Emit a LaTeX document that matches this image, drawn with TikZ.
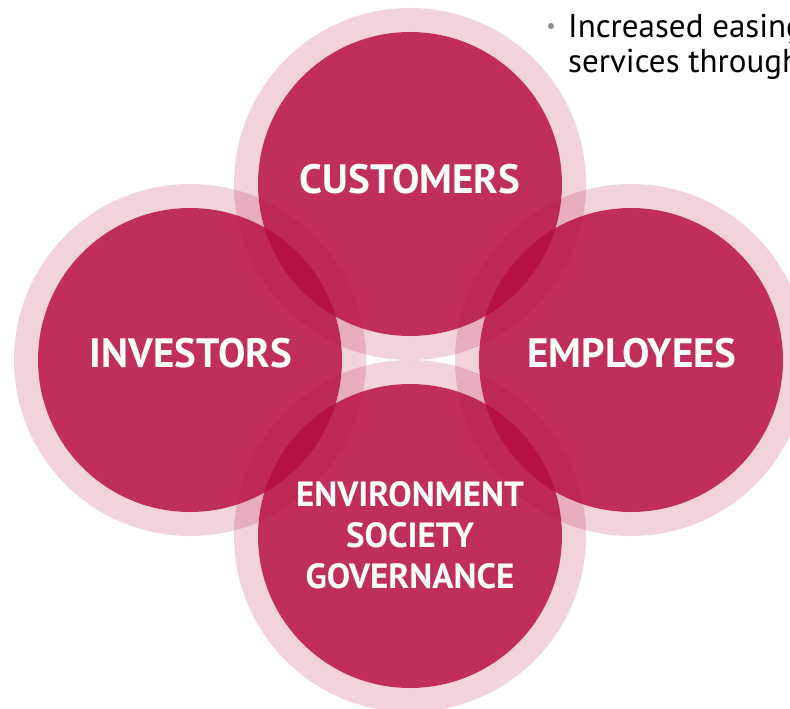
\documentclass[tikz,border=0pt]{standalone}
\usepackage{fontspec}
\setmainfont{PT Sans}
\begin{document}
\definecolor{crimson}{RGB}{181,10,61}
\definecolor{bulletgray}{RGB}{140,140,140}
\tikzset{
  disk/.style={circle, fill=crimson, fill opacity=0.85, draw=none, minimum size=304pt, inner sep=0pt},
  halo/.style={draw=crimson, draw opacity=0.18, line width=24pt},
  label/.style={text=white, font=\bfseries\fontsize{41}{45}\selectfont, anchor=base},
  esg/.style={text=white, font=\bfseries\fontsize{35}{41}\selectfont, align=center, anchor=base},
  bullettext/.style={text=black, font=\fontsize{33}{35}\selectfont, anchor=base west, inner sep=0pt}
}
\begin{tikzpicture}[x=1pt, y=-1pt]
  \useasboundingbox (0,0) rectangle (790,709);
  \clip (0,0) rectangle (790,709);
  % four translucent discs
  \node[disk] (cust) at (410,184) {};
  \node[disk] (inv)  at (190,360) {};
  \node[disk] (emp)  at (631,360) {};
  \node[disk] (esgc) at (410,536) {};
  % pale halos round each disc
  \foreach \c in {cust,inv,emp,esgc}
    \draw[halo] (\c.center) circle (164pt);
  % labels
  \node[label] (custlbl) at (410,193) {CUSTOMERS};
  \node[label] (invlbl)  at (191,367) {INVESTORS};
  \node[label] (emplbl)  at (632,367) {EMPLOYEES};
  % the base anchor of a multi-line node sits on its last line
  \node[esg] (esglbl) at (410,588) {ENVIRONMENT\\SOCIETY\\GOVERNANCE};
  % bullet text at the top right, running off the edge
  \fill[bulletgray] (551,26) circle (3pt);
  \node[bullettext] (line1) at (568,38) {Increased easing};
  \node[bullettext] (line2) at (568,73) {services through};
\end{tikzpicture}
\end{document}
